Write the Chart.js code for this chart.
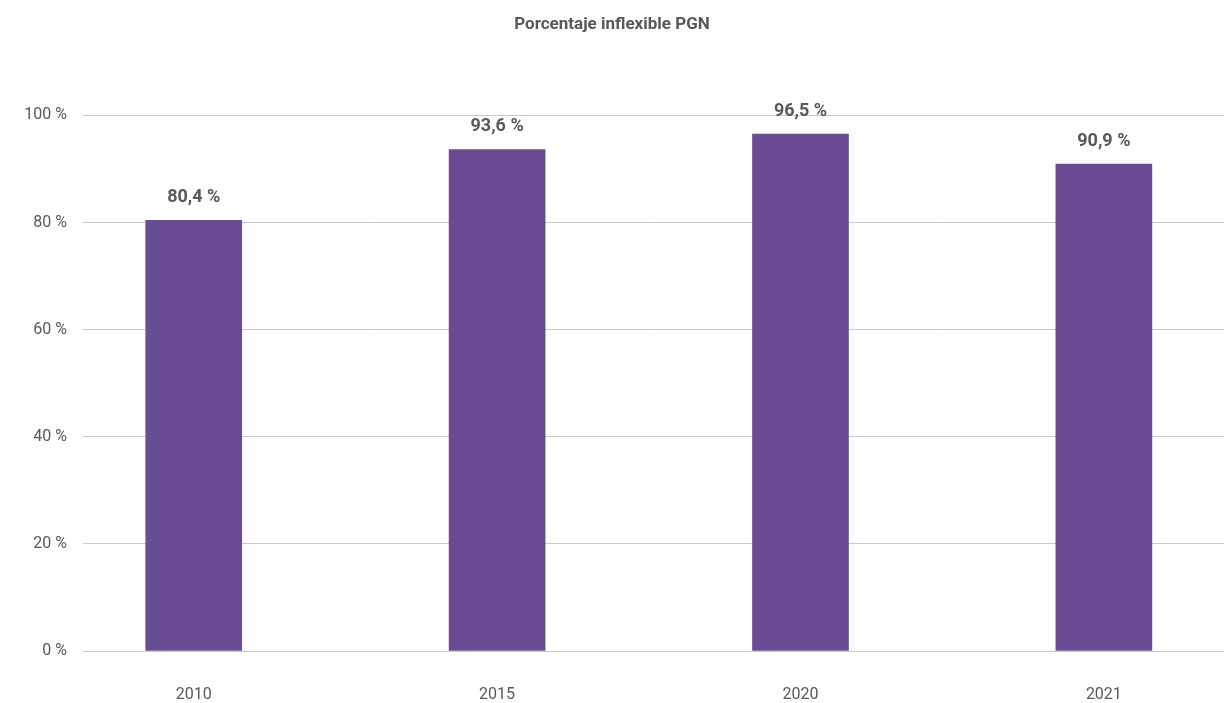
<!DOCTYPE html>
<html lang="es">
<head>
    <meta charset="UTF-8">
    <title>Porcentaje inflexible PGN</title>
    <script src="https://cdn.jsdelivr.net/npm/chart.js"></script>
    <style>
        body {
            margin: 0;
            padding: 0;
            background-color: #ffffff;
        }

        #chart-container {
            width: 1224px;
            height: 703px;
        }
    </style>
</head>
<body>
<div id="chart-container">
    <canvas id="barChart"></canvas>
</div>

<script>
    // Datos del gráfico
    const anios = ['2010', '2015', '2020', '2021'];
    const porcentajes = [80.4, 93.6, 96.5, 90.9];
    const ticksY = [0, 20, 40, 60, 80, 100];

    const grisTexto = '#595959';
    const fuente = 'Roboto, "DejaVu Sans", sans-serif';

    // Etiquetas de valor encima de cada barra
    const etiquetasBarras = {
        id: 'etiquetasBarras',
        afterDatasetsDraw(chart) {
            const ctx = chart.ctx;
            const meta = chart.getDatasetMeta(0);
            ctx.save();
            ctx.font = 'bold 18px ' + fuente;
            ctx.fillStyle = grisTexto;
            ctx.textAlign = 'center';
            ctx.textBaseline = 'bottom';
            meta.data.forEach((barra, i) => {
                const texto = porcentajes[i].toFixed(1).replace('.', ',') + ' %';
                ctx.fillText(texto, barra.x, barra.y - 14);
            });
            ctx.restore();
        }
    };

    const ctx = document.getElementById('barChart').getContext('2d');

    new Chart(ctx, {
        type: 'bar',
        data: {
            datasets: [{
                label: 'Porcentaje inflexible PGN',
                data: porcentajes.map((v, i) => ({ x: i, y: v })),
                backgroundColor: '#6a4c93',
                borderWidth: 0,
                barThickness: 96
            }]
        },
        options: {
            responsive: true,
            maintainAspectRatio: false,
            animation: false,
            layout: {
                padding: { left: 0, right: 0, top: 0, bottom: 0 }
            },
            plugins: {
                legend: { display: false },
                tooltip: { enabled: false },
                title: {
                    display: true,
                    text: 'Porcentaje inflexible PGN',
                    color: grisTexto,
                    font: { family: fuente, size: 17, weight: 'bold' },
                    padding: { top: 15, bottom: 80 }
                }
            },
            scales: {
                x: {
                    type: 'linear',
                    offset: false,
                    min: -0.365,
                    max: 3.396,
                    grid: { display: false, drawTicks: false, offset: false },
                    border: { display: false },
                    afterBuildTicks: scale => {
                        scale.ticks = anios.map((a, i) => ({ value: i }));
                    },
                    afterFit: scale => { scale.height = 52; },
                    ticks: {
                        color: grisTexto,
                        padding: 34,
                        maxRotation: 0,
                        autoSkip: false,
                        font: { family: fuente, size: 16 },
                        callback: v => anios[v]
                    }
                },
                y: {
                    min: 0,
                    max: 100,
                    grid: { color: '#c9c9c9', lineWidth: 1, drawTicks: false },
                    border: { display: false },
                    afterBuildTicks: scale => {
                        scale.ticks = ticksY.map(v => ({ value: v }));
                    },
                    afterFit: scale => { scale.width = 83; },
                    ticks: {
                        color: grisTexto,
                        padding: 16,
                        font: { family: fuente, size: 16 },
                        callback: v => v + ' %'
                    }
                }
            }
        },
        plugins: [etiquetasBarras]
    });
</script>
</body>
</html>
